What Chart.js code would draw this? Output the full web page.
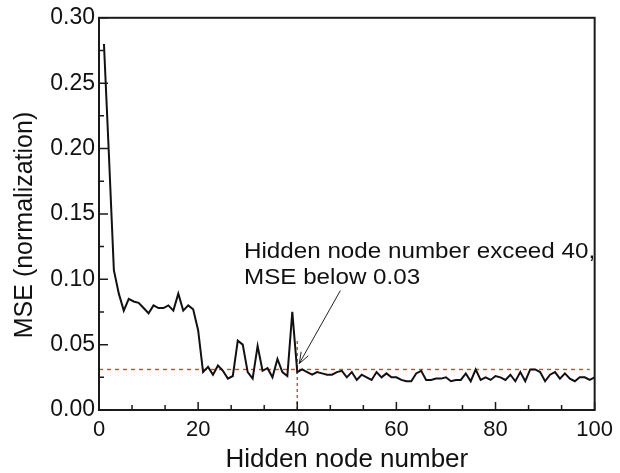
<!DOCTYPE html>
<html><head><meta charset="utf-8">
<script src="https://cdn.jsdelivr.net/npm/chart.js@4/dist/chart.umd.min.js"></script>
<style>html,body{margin:0;padding:0;background:#fff}</style>
</head><body>
<canvas id="c" width="620" height="473" style="display:block;width:620px;height:473px"></canvas>
<script>
const hiddenNodes = [1,2,3,4,5,6,7,8,9,10,11,12,13,14,15,16,17,18,19,20,
  21,22,23,24,25,26,27,28,29,30,31,32,33,34,35,36,37,38,39,40,
  41,42,43,44,45,46,47,48,49,50,51,52,53,54,55,56,57,58,59,60,
  61,62,63,64,65,66,67,68,69,70,71,72,73,74,75,76,77,78,79,80,
  81,82,83,84,85,86,87,88,89,90,91,92,93,94,95,96,97,98,99,100];
const mseValues = [0.280,0.195,0.107,0.089,0.076,0.085,0.083,0.082,0.078,0.074,
  0.080,0.078,0.078,0.080,0.076,0.089,0.076,0.080,0.077,0.061,
  0.029,0.033,0.027,0.034,0.030,0.024,0.026,0.053,0.050,0.029,
  0.024,0.049,0.030,0.032,0.025,0.039,0.029,0.026,0.075,0.029,
  0.031,0.029,0.027,0.029,0.028,0.027,0.027,0.029,0.030,0.025,
  0.029,0.023,0.027,0.025,0.023,0.029,0.025,0.028,0.025,0.025,
  0.023,0.022,0.022,0.028,0.030,0.023,0.023,0.024,0.024,0.025,
  0.022,0.023,0.023,0.028,0.022,0.031,0.023,0.025,0.023,0.026,
  0.025,0.023,0.027,0.022,0.029,0.022,0.031,0.031,0.029,0.022,
  0.027,0.029,0.024,0.028,0.024,0.022,0.025,0.025,0.023,0.025];
const xTickValues = [0,20,40,60,80,100];
const yTickValues = [0,0.05,0.10,0.15,0.20,0.25,0.30];
const thresholdMSE = 0.031;
const thresholdNode = 40;
const annotationLines = ["Hidden node number exceed 40,", "MSE below 0.03"];
const xTitle = "Hidden node number";
const yTitle = "MSE (normalization)";

const FONT = "'Liberation Sans', Arial, sans-serif";
const RED = '#c0502e';

const decor = {
  id: 'decor',
  beforeDatasetsDraw(chart) {
    const {ctx, scales: {x, y}} = chart;
    ctx.save();
    ctx.strokeStyle = RED;
    ctx.lineWidth = 1.4;
    ctx.setLineDash([4, 4]);
    ctx.beginPath();
    ctx.moveTo(x.getPixelForValue(0), y.getPixelForValue(thresholdMSE));
    ctx.lineTo(x.getPixelForValue(99), y.getPixelForValue(thresholdMSE));
    ctx.stroke();
    ctx.setLineDash([3, 3]);
    ctx.beginPath();
    ctx.moveTo(x.getPixelForValue(thresholdNode), y.getPixelForValue(0));
    ctx.lineTo(x.getPixelForValue(thresholdNode), y.getPixelForValue(0.054));
    ctx.stroke();
    ctx.restore();
  },
  afterDraw(chart) {
    const {ctx, chartArea: a, scales: {x, y}} = chart;
    ctx.save();
    ctx.strokeStyle = '#1a1a1a';
    ctx.lineWidth = 2;
    ctx.strokeRect(a.left, a.top, a.right - a.left, a.bottom - a.top);
    ctx.lineWidth = 1.5;
    ctx.beginPath();
    for (let k = 0; k <= 15; k++) {
      const px = x.getPixelForValue(k * 20 / 3);
      const len = (k % 3 === 0) ? 8 : 5;
      ctx.moveTo(px, a.bottom);
      ctx.lineTo(px, a.bottom - len);
    }
    for (let k = 0; k <= 12; k++) {
      const py = y.getPixelForValue(k * 0.025);
      const len = (k % 2 === 0) ? 9 : 5;
      ctx.moveTo(a.left, py);
      ctx.lineTo(a.left + len, py);
    }
    ctx.stroke();
    ctx.fillStyle = '#111';
    ctx.font = '25px ' + FONT;
    ctx.textAlign = 'center';
    ctx.textBaseline = 'middle';
    ctx.translate(25, 225);
    ctx.rotate(-Math.PI / 2);
    ctx.fillText(yTitle, 0, 0);
    ctx.restore();

    ctx.save();
    ctx.fillStyle = '#111';
    ctx.font = '22px ' + FONT;
    ctx.textAlign = 'left';
    ctx.textBaseline = 'alphabetic';
    ctx.save();
    ctx.translate(244, 0);
    ctx.scale(1.1, 1);
    ctx.fillText(annotationLines[0], 0, 258);
    ctx.fillText(annotationLines[1], 0, 284);
    ctx.restore();
    const x0 = x.getPixelForValue(48.7), y0 = y.getPixelForValue(0.0914);
    const x1 = x.getPixelForValue(40.4), y1 = y.getPixelForValue(0.0355);
    ctx.strokeStyle = '#222';
    ctx.lineWidth = 1;
    ctx.beginPath();
    ctx.moveTo(x0, y0); ctx.lineTo(x1, y1);
    const ang = Math.atan2(y1 - y0, x1 - x0);
    const hl = 12, ha = 0.35;
    ctx.moveTo(x1, y1);
    ctx.lineTo(x1 - hl * Math.cos(ang - ha), y1 - hl * Math.sin(ang - ha));
    ctx.moveTo(x1, y1);
    ctx.lineTo(x1 - hl * Math.cos(ang + ha), y1 - hl * Math.sin(ang + ha));
    ctx.stroke();
    ctx.restore();
  }
};

new Chart(document.getElementById('c'), {
  type: 'line',
  data: {
    datasets: [{
      data: hiddenNodes.map((n, i) => ({x: n, y: mseValues[i]})),
      borderColor: '#111',
      borderWidth: 2,
      pointRadius: 0,
      tension: 0,
      fill: false
    }]
  },
  options: {
    responsive: false,
    animation: false,
    devicePixelRatio: 1,
    layout: {padding: {left: 0, top: 16, right: 23, bottom: 0}},
    plugins: {legend: {display: false}, tooltip: {enabled: false}},
    scales: {
      x: {
        type: 'linear', min: 0, max: 100,
        afterBuildTicks(s) { s.ticks = xTickValues.map(v => ({value: v})); },
        afterFit(s) { s.height = 63; },
        grid: {display: false, drawTicks: false},
        border: {display: false},
        ticks: {font: {size: 22, family: FONT}, color: '#111', padding: 7, maxRotation: 0,
          callback: v => String(v)},
        title: {display: true, text: xTitle, color: '#111',
          font: {size: 26, family: FONT, lineHeight: 1.0}, padding: {top: 0, bottom: 0}}
      },
      y: {
        type: 'linear', min: 0, max: 0.30,
        afterBuildTicks(s) { s.ticks = yTickValues.map(v => ({value: v})); },
        afterFit(s) { s.width = 99; },
        grid: {display: false, drawTicks: false},
        border: {display: false},
        ticks: {font: {size: 23, family: FONT}, color: '#111', padding: 4,
          callback: v => Number(v).toFixed(2)}
      }
    }
  },
  plugins: [decor]
});
</script>
</body></html>
